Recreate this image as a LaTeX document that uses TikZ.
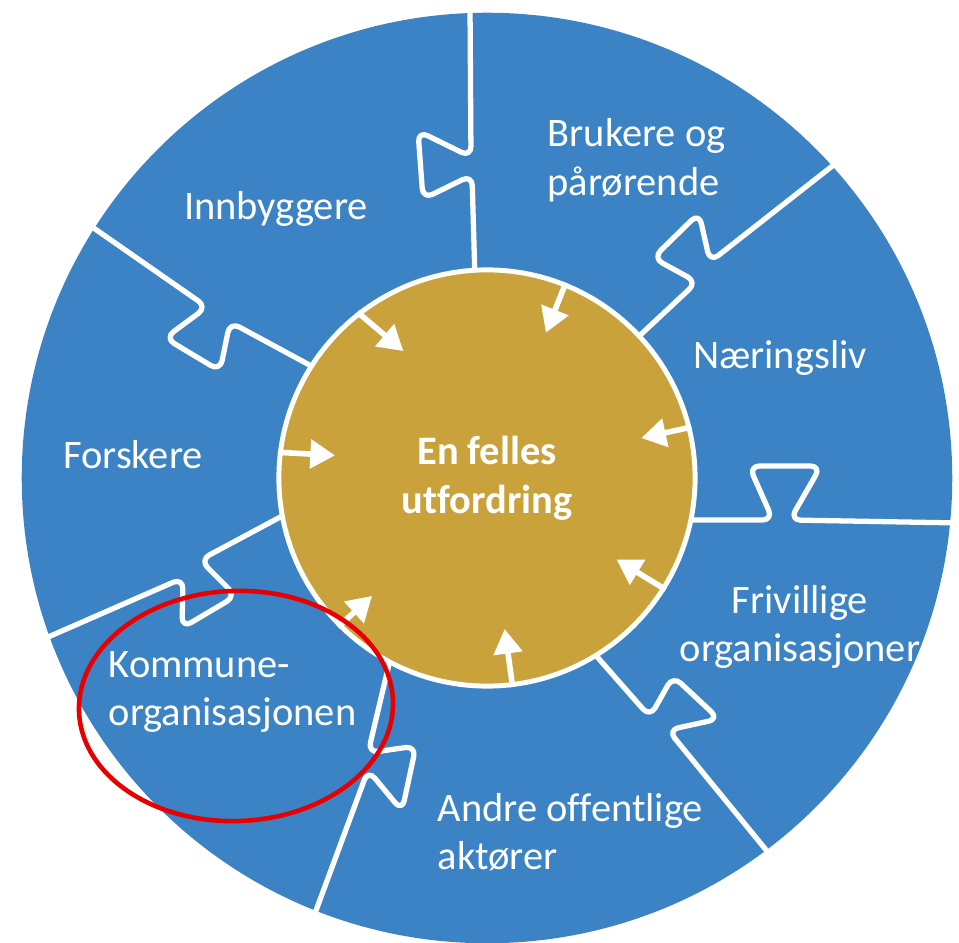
\documentclass[tikz,border=0pt]{standalone}
\usepackage{fontspec}
\setmainfont{Carlito}[Ligatures=NoCommon]
\usetikzlibrary{arrows.meta}
\definecolor{ringblue}{RGB}{59,131,197}
\definecolor{hubgold}{RGB}{201,162,60}
\definecolor{markred}{RGB}{232,0,0}

\begin{document}
\begin{tikzpicture}[
    x=0.01cm, y=-0.01cm,
    seam/.style={draw=white, line width=1.5pt, rounded corners=3pt, line join=round},
    hub/.style={circle, fill=hubgold, draw=white, line width=1.4pt, minimum size=4.16cm,
                inner sep=0pt, align=center, text=white,
                font=\fontsize{11.5}{13.8}\selectfont\bfseries},
    actor/.style={inner sep=0pt, text=white, font=\fontsize{11.5}{13.8}\selectfont},
    inarrow/.style={white, line width=1.6pt, -{Triangle[length=7pt, width=8pt]}},
    ring/.style={draw=markred, line width=1.3pt},
]
\useasboundingbox (0,0) rectangle (959,943);
\fill[ringblue] (487,478) circle[radius=4.65cm];

% puzzle seams between the pieces
\draw[seam] (470,5) -- (471,157) -- (418,131) -- (423,199) -- (472,175) -- (475,280);
\draw[seam] (635,340) -- (697,282) -- (653,258) -- (699,213) -- (710,262) -- (840,160);
\draw[seam] (685,520) -- (773,520) -- (749,466) -- (821,466) -- (790,520) -- (960,523);
\draw[seam] (592,651) -- (650,717) -- (673,676) -- (719,719) -- (668,730) -- (771,856);
\draw[seam] (390,660) -- (368,753) -- (416,746) -- (402,811) -- (368,770) -- (314,916);
\draw[seam] (286,514) -- (200,560) -- (236,596) -- (182,628) -- (183,578) -- (39,641);
\draw[seam] (85,222) -- (207,307) -- (165,338) -- (220,371) -- (230,322) -- (315,368);

\node[hub] (hub) at (487,478) {En felles\\utfordring};

\draw[inarrow] (hub.128.5) -- ++(46,39);
\draw[inarrow] (hub.68.7) -- ++(-20,50);
\draw[inarrow] (hub.14.2) -- ++(-50,11);
\draw[inarrow] (hub.-32.4) -- ++(-49,-30);
\draw[inarrow] (hub.-83.9) -- ++(-8,-58);
\draw[inarrow] (hub.-135) -- ++(34,-31);
\draw[inarrow] (hub.173.6) -- ++(57,3);

\node[actor] (innbyggere) at (276,209) {Innbyggere};
\node[actor, anchor=west, align=left] (brukere) at (547,160) {Brukere og\\pårørende};
\node[actor] (naering) at (780,358) {Næringsliv};
\node[actor, align=center] (frivillige) at (800,627) {Frivillige\\organisasjoner};
\node[actor, anchor=west, align=left] (andre) at (437,832) {Andre offentlige\\aktører};
\node[actor, anchor=west, align=left] (kommune) at (108,692) {Kommune-\\organisasjonen};
\node[actor] (forskere) at (133,455) {Forskere};

\draw[ring, rotate around={2:(236,706)}] (236,706) ellipse[x radius=1.57cm, y radius=1.15cm];
\end{tikzpicture}
\end{document}
